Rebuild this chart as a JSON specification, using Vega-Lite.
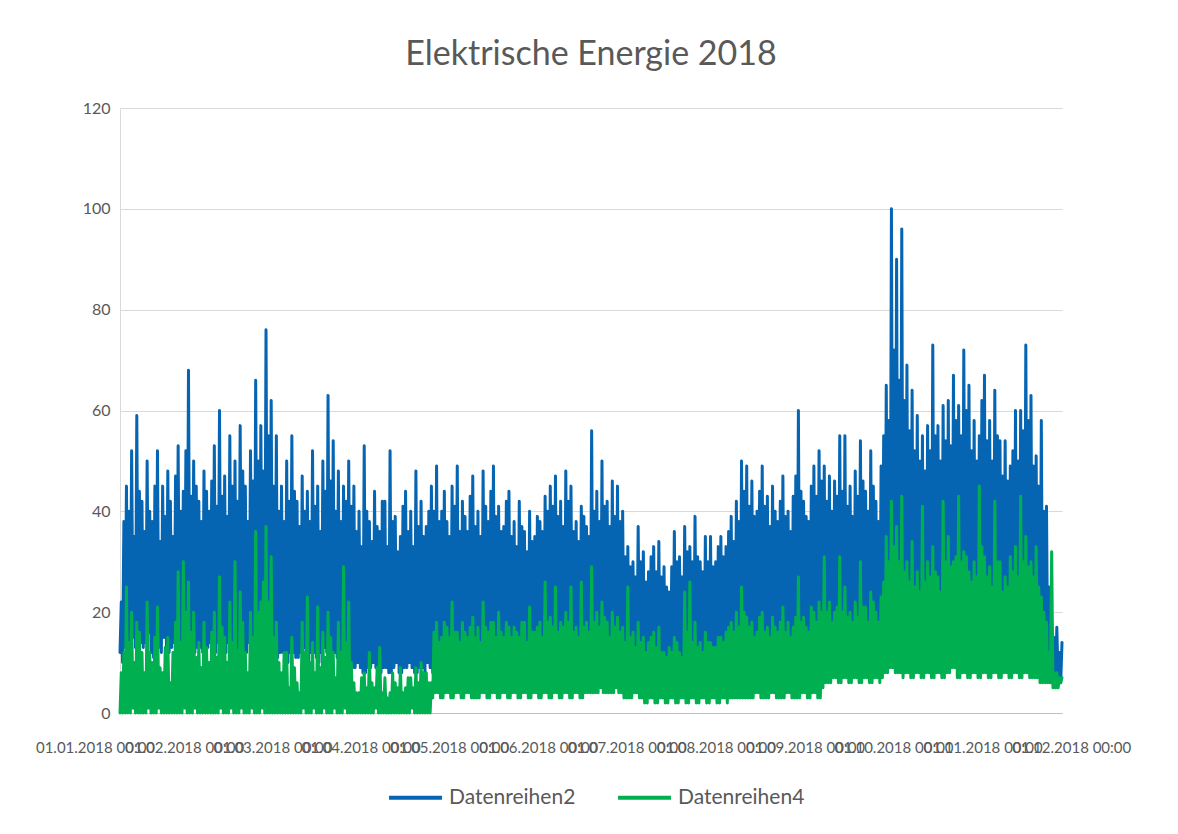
{
"$schema": "https://vega.github.io/schema/vega-lite/v6.json",
"width": 942, "height": 605,
"autosize": {"type": "none"},
"padding": {"left": 120, "top": 108, "right": 116, "bottom": 121},
"background": "white",
"title": {"text": "Elektrische Energie 2018", "font": "Lato", "fontSize": 34, "fontWeight": "normal", "color": "#595959", "offset": 28, "anchor": "middle"},
"data": {"format": {"parse": {"t": "utc:'%y%m%d%H'"}}, "values": [
{"t":"18010100","a":12,"b":0},{"t":"18010112","a":22,"b":8},{"t":"18010200","a":10,"b":0},{"t":"18010212","a":38,"b":12},{"t":"18010300","a":13,"b":0},{"t":"18010312","a":45,"b":25},{"t":"18010400","a":14,"b":0},{"t":"18010412","a":40,"b":14},{"t":"18010500","a":12,"b":0},{"t":"18010512","a":52,"b":20},{"t":"18010600","a":15,"b":1},{"t":"18010612","a":35,"b":10},{"t":"18010700","a":13,"b":0},{"t":"18010712","a":59,"b":18},{"t":"18010800","a":12,"b":0},{"t":"18010812","a":44,"b":16},{"t":"18010900","a":14,"b":0},{"t":"18010912","a":42,"b":12},{"t":"18011000","a":13,"b":0},{"t":"18011012","a":36,"b":8},{"t":"18011100","a":14,"b":0},{"t":"18011112","a":50,"b":22},{"t":"18011200","a":16,"b":1},{"t":"18011212","a":40,"b":12},{"t":"18011300","a":12,"b":0},{"t":"18011312","a":38,"b":10},{"t":"18011400","a":11,"b":0},{"t":"18011412","a":45,"b":15},{"t":"18011500","a":13,"b":0},{"t":"18011512","a":52,"b":21},{"t":"18011600","a":13,"b":1},{"t":"18011612","a":34,"b":9},{"t":"18011700","a":12,"b":0},{"t":"18011712","a":45,"b":8},{"t":"18011800","a":15,"b":0},{"t":"18011812","a":39,"b":13},{"t":"18011900","a":12,"b":0},{"t":"18011912","a":48,"b":15},{"t":"18012000","a":12,"b":0},{"t":"18012012","a":42,"b":6},{"t":"18012100","a":13,"b":0},{"t":"18012112","a":35,"b":12},{"t":"18012200","a":14,"b":0},{"t":"18012212","a":47,"b":18},{"t":"18012300","a":12,"b":0},{"t":"18012312","a":53,"b":28},{"t":"18012400","a":11,"b":0},{"t":"18012412","a":40,"b":14},{"t":"18012500","a":13,"b":0},{"t":"18012512","a":44,"b":30},{"t":"18012600","a":13,"b":1},{"t":"18012612","a":52,"b":20},{"t":"18012700","a":14,"b":0},{"t":"18012712","a":68,"b":26},{"t":"18012800","a":15,"b":0},{"t":"18012812","a":43,"b":16},{"t":"18012900","a":13,"b":0},{"t":"18012912","a":50,"b":20},{"t":"18013000","a":12,"b":1},{"t":"18013012","a":45,"b":11},{"t":"18013100","a":13,"b":0},{"t":"18013112","a":42,"b":14},
{"t":"18020100","a":13,"b":0},{"t":"18020112","a":38,"b":9},{"t":"18020200","a":12,"b":0},{"t":"18020212","a":48,"b":18},{"t":"18020300","a":11,"b":0},{"t":"18020312","a":44,"b":13},{"t":"18020400","a":13,"b":0},{"t":"18020412","a":40,"b":10},{"t":"18020500","a":14,"b":0},{"t":"18020512","a":46,"b":16},{"t":"18020600","a":12,"b":0},{"t":"18020612","a":53,"b":20},{"t":"18020700","a":12,"b":0},{"t":"18020712","a":41,"b":11},{"t":"18020800","a":14,"b":0},{"t":"18020812","a":60,"b":27},{"t":"18020900","a":15,"b":1},{"t":"18020912","a":43,"b":17},{"t":"18021000","a":13,"b":0},{"t":"18021012","a":47,"b":15},{"t":"18021100","a":12,"b":0},{"t":"18021112","a":39,"b":10},{"t":"18021200","a":14,"b":0},{"t":"18021212","a":55,"b":22},{"t":"18021300","a":14,"b":1},{"t":"18021312","a":45,"b":14},{"t":"18021400","a":12,"b":0},{"t":"18021412","a":50,"b":30},{"t":"18021500","a":11,"b":0},{"t":"18021512","a":42,"b":12},{"t":"18021600","a":13,"b":0},{"t":"18021612","a":57,"b":24},{"t":"18021700","a":13,"b":1},{"t":"18021712","a":48,"b":18},{"t":"18021800","a":12,"b":0},{"t":"18021812","a":45,"b":12},{"t":"18021900","a":12,"b":0},{"t":"18021912","a":38,"b":8},{"t":"18022000","a":14,"b":0},{"t":"18022012","a":52,"b":20},{"t":"18022100","a":15,"b":1},{"t":"18022112","a":46,"b":15},{"t":"18022200","a":13,"b":0},{"t":"18022212","a":66,"b":36},{"t":"18022300","a":13,"b":0},{"t":"18022312","a":50,"b":20},{"t":"18022400","a":12,"b":0},{"t":"18022412","a":57,"b":22},{"t":"18022500","a":14,"b":1},{"t":"18022512","a":48,"b":26},{"t":"18022600","a":13,"b":0},{"t":"18022612","a":76,"b":37},{"t":"18022700","a":12,"b":0},{"t":"18022712","a":55,"b":22},{"t":"18022800","a":14,"b":0},{"t":"18022812","a":62,"b":31},
{"t":"18030100","a":13,"b":0},{"t":"18030112","a":45,"b":15},{"t":"18030200","a":12,"b":0},{"t":"18030212","a":55,"b":18},{"t":"18030300","a":11,"b":0},{"t":"18030312","a":40,"b":10},{"t":"18030400","a":12,"b":0},{"t":"18030412","a":45,"b":8},{"t":"18030500","a":12,"b":0},{"t":"18030512","a":38,"b":12},{"t":"18030600","a":11,"b":0},{"t":"18030612","a":50,"b":12},{"t":"18030700","a":10,"b":0},{"t":"18030712","a":42,"b":5},{"t":"18030800","a":12,"b":0},{"t":"18030812","a":55,"b":15},{"t":"18030900","a":12,"b":0},{"t":"18030912","a":44,"b":9},{"t":"18031000","a":11,"b":0},{"t":"18031012","a":42,"b":6},{"t":"18031100","a":11,"b":0},{"t":"18031112","a":37,"b":4},{"t":"18031200","a":12,"b":0},{"t":"18031212","a":47,"b":18},{"t":"18031300","a":13,"b":1},{"t":"18031312","a":40,"b":12},{"t":"18031400","a":11,"b":0},{"t":"18031412","a":44,"b":23},{"t":"18031500","a":10,"b":0},{"t":"18031512","a":38,"b":10},{"t":"18031600","a":12,"b":0},{"t":"18031612","a":52,"b":14},{"t":"18031700","a":12,"b":1},{"t":"18031712","a":41,"b":8},{"t":"18031800","a":11,"b":0},{"t":"18031812","a":45,"b":21},{"t":"18031900","a":10,"b":0},{"t":"18031912","a":36,"b":9},{"t":"18032000","a":12,"b":0},{"t":"18032012","a":50,"b":16},{"t":"18032100","a":13,"b":1},{"t":"18032112","a":44,"b":11},{"t":"18032200","a":12,"b":0},{"t":"18032212","a":63,"b":20},{"t":"18032300","a":11,"b":0},{"t":"18032312","a":46,"b":15},{"t":"18032400","a":11,"b":0},{"t":"18032412","a":54,"b":12},{"t":"18032500","a":12,"b":1},{"t":"18032512","a":40,"b":7},{"t":"18032600","a":11,"b":0},{"t":"18032612","a":48,"b":18},{"t":"18032700","a":10,"b":0},{"t":"18032712","a":38,"b":12},{"t":"18032800","a":11,"b":0},{"t":"18032812","a":45,"b":29},{"t":"18032900","a":12,"b":1},{"t":"18032912","a":42,"b":14},{"t":"18033000","a":11,"b":0},{"t":"18033012","a":50,"b":22},{"t":"18033100","a":10,"b":0},{"t":"18033112","a":41,"b":10},
{"t":"18040100","a":9,"b":0},{"t":"18040112","a":45,"b":6},{"t":"18040200","a":9,"b":0},{"t":"18040212","a":36,"b":4},{"t":"18040300","a":10,"b":0},{"t":"18040312","a":40,"b":4},{"t":"18040400","a":9,"b":0},{"t":"18040412","a":33,"b":7},{"t":"18040500","a":8,"b":0},{"t":"18040512","a":53,"b":8},{"t":"18040600","a":8,"b":0},{"t":"18040612","a":40,"b":5},{"t":"18040700","a":9,"b":0},{"t":"18040712","a":38,"b":12},{"t":"18040800","a":9,"b":0},{"t":"18040812","a":34,"b":6},{"t":"18040900","a":10,"b":0},{"t":"18040912","a":44,"b":5},{"t":"18041000","a":9,"b":1},{"t":"18041012","a":37,"b":9},{"t":"18041100","a":8,"b":0},{"t":"18041112","a":36,"b":13},{"t":"18041200","a":8,"b":0},{"t":"18041212","a":42,"b":4},{"t":"18041300","a":9,"b":0},{"t":"18041312","a":42,"b":7},{"t":"18041400","a":9,"b":0},{"t":"18041412","a":33,"b":3},{"t":"18041500","a":8,"b":0},{"t":"18041512","a":52,"b":4},{"t":"18041600","a":8,"b":0},{"t":"18041612","a":38,"b":8},{"t":"18041700","a":9,"b":0},{"t":"18041712","a":39,"b":6},{"t":"18041800","a":10,"b":0},{"t":"18041812","a":32,"b":5},{"t":"18041900","a":8,"b":0},{"t":"18041912","a":35,"b":9},{"t":"18042000","a":8,"b":0},{"t":"18042012","a":41,"b":4},{"t":"18042100","a":9,"b":0},{"t":"18042112","a":44,"b":5},{"t":"18042200","a":9,"b":0},{"t":"18042212","a":36,"b":7},{"t":"18042300","a":10,"b":0},{"t":"18042312","a":40,"b":7},{"t":"18042400","a":9,"b":1},{"t":"18042412","a":33,"b":5},{"t":"18042500","a":8,"b":0},{"t":"18042512","a":48,"b":9},{"t":"18042600","a":8,"b":0},{"t":"18042612","a":37,"b":6},{"t":"18042700","a":9,"b":0},{"t":"18042712","a":42,"b":10},{"t":"18042800","a":9,"b":0},{"t":"18042812","a":35,"b":8},{"t":"18042900","a":8,"b":0},{"t":"18042912","a":37,"b":8},{"t":"18043000","a":10,"b":0},{"t":"18043012","a":40,"b":6},
{"t":"18050100","a":9,"b":0},{"t":"18050112","a":45,"b":6},{"t":"18050200","a":8,"b":3},{"t":"18050212","a":40,"b":16},{"t":"18050300","a":8,"b":4},{"t":"18050312","a":49,"b":18},{"t":"18050400","a":8,"b":4},{"t":"18050412","a":38,"b":14},{"t":"18050500","a":9,"b":3},{"t":"18050512","a":40,"b":15},{"t":"18050600","a":9,"b":3},{"t":"18050612","a":44,"b":18},{"t":"18050700","a":8,"b":4},{"t":"18050712","a":38,"b":17},{"t":"18050800","a":8,"b":4},{"t":"18050812","a":35,"b":15},{"t":"18050900","a":9,"b":3},{"t":"18050912","a":45,"b":22},{"t":"18051000","a":9,"b":3},{"t":"18051012","a":41,"b":16},{"t":"18051100","a":8,"b":4},{"t":"18051112","a":49,"b":16},{"t":"18051200","a":8,"b":4},{"t":"18051212","a":36,"b":14},{"t":"18051300","a":7,"b":3},{"t":"18051312","a":42,"b":18},{"t":"18051400","a":7,"b":3},{"t":"18051412","a":39,"b":16},{"t":"18051500","a":8,"b":4},{"t":"18051512","a":36,"b":15},{"t":"18051600","a":8,"b":4},{"t":"18051612","a":43,"b":17},{"t":"18051700","a":9,"b":3},{"t":"18051712","a":47,"b":19},{"t":"18051800","a":9,"b":3},{"t":"18051812","a":37,"b":15},{"t":"18051900","a":8,"b":3},{"t":"18051912","a":40,"b":17},{"t":"18052000","a":8,"b":3},{"t":"18052012","a":35,"b":14},{"t":"18052100","a":8,"b":4},{"t":"18052112","a":48,"b":22},{"t":"18052200","a":8,"b":4},{"t":"18052212","a":41,"b":17},{"t":"18052300","a":7,"b":3},{"t":"18052312","a":38,"b":16},{"t":"18052400","a":7,"b":3},{"t":"18052412","a":44,"b":18},{"t":"18052500","a":8,"b":4},{"t":"18052512","a":49,"b":18},{"t":"18052600","a":8,"b":4},{"t":"18052612","a":39,"b":15},{"t":"18052700","a":9,"b":3},{"t":"18052712","a":41,"b":20},{"t":"18052800","a":9,"b":3},{"t":"18052812","a":36,"b":16},{"t":"18052900","a":8,"b":4},{"t":"18052912","a":37,"b":15},{"t":"18053000","a":8,"b":4},{"t":"18053012","a":42,"b":18},{"t":"18053100","a":8,"b":3},{"t":"18053112","a":44,"b":17},
{"t":"18060100","a":8,"b":3},{"t":"18060112","a":35,"b":15},{"t":"18060200","a":7,"b":4},{"t":"18060212","a":38,"b":17},{"t":"18060300","a":7,"b":4},{"t":"18060312","a":33,"b":16},{"t":"18060400","a":8,"b":3},{"t":"18060412","a":42,"b":15},{"t":"18060500","a":8,"b":3},{"t":"18060512","a":37,"b":18},{"t":"18060600","a":9,"b":4},{"t":"18060612","a":36,"b":18},{"t":"18060700","a":9,"b":4},{"t":"18060712","a":32,"b":14},{"t":"18060800","a":8,"b":3},{"t":"18060812","a":40,"b":21},{"t":"18060900","a":8,"b":3},{"t":"18060912","a":34,"b":16},{"t":"18061000","a":7,"b":4},{"t":"18061012","a":35,"b":16},{"t":"18061100","a":7,"b":4},{"t":"18061112","a":39,"b":17},{"t":"18061200","a":8,"b":3},{"t":"18061212","a":38,"b":18},{"t":"18061300","a":8,"b":3},{"t":"18061312","a":36,"b":15},{"t":"18061400","a":8,"b":4},{"t":"18061412","a":43,"b":26},{"t":"18061500","a":8,"b":4},{"t":"18061512","a":40,"b":18},{"t":"18061600","a":9,"b":3},{"t":"18061612","a":45,"b":19},{"t":"18061700","a":9,"b":3},{"t":"18061712","a":41,"b":17},{"t":"18061800","a":8,"b":4},{"t":"18061812","a":47,"b":25},{"t":"18061900","a":8,"b":4},{"t":"18061912","a":39,"b":16},{"t":"18062000","a":7,"b":3},{"t":"18062012","a":42,"b":18},{"t":"18062100","a":7,"b":3},{"t":"18062112","a":37,"b":17},{"t":"18062200","a":8,"b":4},{"t":"18062212","a":48,"b":20},{"t":"18062300","a":8,"b":4},{"t":"18062312","a":42,"b":18},{"t":"18062400","a":9,"b":3},{"t":"18062412","a":45,"b":25},{"t":"18062500","a":9,"b":3},{"t":"18062512","a":36,"b":16},{"t":"18062600","a":8,"b":4},{"t":"18062612","a":38,"b":17},{"t":"18062700","a":8,"b":4},{"t":"18062712","a":34,"b":15},{"t":"18062800","a":8,"b":3},{"t":"18062812","a":41,"b":26},{"t":"18062900","a":8,"b":3},{"t":"18062912","a":39,"b":17},{"t":"18063000","a":8,"b":4},{"t":"18063012","a":37,"b":18},
{"t":"18070100","a":8,"b":4},{"t":"18070112","a":35,"b":16},{"t":"18070200","a":9,"b":4},{"t":"18070212","a":56,"b":29},{"t":"18070300","a":9,"b":4},{"t":"18070312","a":40,"b":18},{"t":"18070400","a":8,"b":4},{"t":"18070412","a":44,"b":20},{"t":"18070500","a":8,"b":4},{"t":"18070512","a":38,"b":17},{"t":"18070600","a":9,"b":5},{"t":"18070612","a":50,"b":22},{"t":"18070700","a":9,"b":4},{"t":"18070712","a":41,"b":19},{"t":"18070800","a":8,"b":4},{"t":"18070812","a":42,"b":18},{"t":"18070900","a":8,"b":4},{"t":"18070912","a":37,"b":15},{"t":"18071000","a":9,"b":4},{"t":"18071012","a":46,"b":20},{"t":"18071100","a":9,"b":4},{"t":"18071112","a":39,"b":17},{"t":"18071200","a":8,"b":5},{"t":"18071212","a":45,"b":19},{"t":"18071300","a":8,"b":4},{"t":"18071312","a":38,"b":16},{"t":"18071400","a":9,"b":4},{"t":"18071412","a":40,"b":17},{"t":"18071500","a":8,"b":3},{"t":"18071512","a":31,"b":14},{"t":"18071600","a":8,"b":3},{"t":"18071612","a":33,"b":25},{"t":"18071700","a":7,"b":3},{"t":"18071712","a":29,"b":15},{"t":"18071800","a":7,"b":3},{"t":"18071812","a":30,"b":16},{"t":"18071900","a":8,"b":4},{"t":"18071912","a":27,"b":13},{"t":"18072000","a":8,"b":4},{"t":"18072012","a":37,"b":18},{"t":"18072100","a":7,"b":3},{"t":"18072112","a":30,"b":14},{"t":"18072200","a":7,"b":3},{"t":"18072212","a":32,"b":15},{"t":"18072300","a":6,"b":2},{"t":"18072312","a":26,"b":12},{"t":"18072400","a":6,"b":2},{"t":"18072412","a":28,"b":14},{"t":"18072500","a":7,"b":3},{"t":"18072512","a":31,"b":15},{"t":"18072600","a":7,"b":3},{"t":"18072612","a":33,"b":16},{"t":"18072700","a":6,"b":2},{"t":"18072712","a":28,"b":13},{"t":"18072800","a":6,"b":2},{"t":"18072812","a":34,"b":17},{"t":"18072900","a":7,"b":3},{"t":"18072912","a":27,"b":12},{"t":"18073000","a":7,"b":3},{"t":"18073012","a":29,"b":12},{"t":"18073100","a":6,"b":2},{"t":"18073112","a":25,"b":11},
{"t":"18080100","a":6,"b":2},{"t":"18080112","a":24,"b":13},{"t":"18080200","a":7,"b":3},{"t":"18080212","a":29,"b":12},{"t":"18080300","a":7,"b":3},{"t":"18080312","a":36,"b":15},{"t":"18080400","a":6,"b":2},{"t":"18080412","a":30,"b":14},{"t":"18080500","a":6,"b":2},{"t":"18080512","a":31,"b":12},{"t":"18080600","a":7,"b":3},{"t":"18080612","a":27,"b":11},{"t":"18080700","a":7,"b":3},{"t":"18080712","a":37,"b":24},{"t":"18080800","a":6,"b":2},{"t":"18080812","a":32,"b":16},{"t":"18080900","a":6,"b":2},{"t":"18080912","a":33,"b":26},{"t":"18081000","a":7,"b":3},{"t":"18081012","a":30,"b":14},{"t":"18081100","a":7,"b":3},{"t":"18081112","a":39,"b":18},{"t":"18081200","a":6,"b":2},{"t":"18081212","a":31,"b":13},{"t":"18081300","a":6,"b":2},{"t":"18081312","a":30,"b":14},{"t":"18081400","a":7,"b":3},{"t":"18081412","a":28,"b":12},{"t":"18081500","a":7,"b":3},{"t":"18081512","a":35,"b":16},{"t":"18081600","a":6,"b":2},{"t":"18081612","a":30,"b":14},{"t":"18081700","a":6,"b":2},{"t":"18081712","a":35,"b":14},{"t":"18081800","a":7,"b":3},{"t":"18081812","a":29,"b":13},{"t":"18081900","a":7,"b":3},{"t":"18081912","a":30,"b":13},{"t":"18082000","a":6,"b":2},{"t":"18082012","a":33,"b":15},{"t":"18082100","a":6,"b":2},{"t":"18082112","a":35,"b":15},{"t":"18082200","a":7,"b":3},{"t":"18082212","a":31,"b":14},{"t":"18082300","a":7,"b":3},{"t":"18082312","a":33,"b":16},{"t":"18082400","a":6,"b":2},{"t":"18082412","a":36,"b":17},{"t":"18082500","a":7,"b":3},{"t":"18082512","a":39,"b":18},{"t":"18082600","a":7,"b":3},{"t":"18082612","a":34,"b":16},{"t":"18082700","a":7,"b":3},{"t":"18082712","a":42,"b":20},{"t":"18082800","a":8,"b":3},{"t":"18082812","a":38,"b":17},{"t":"18082900","a":8,"b":3},{"t":"18082912","a":50,"b":25},{"t":"18083000","a":8,"b":3},{"t":"18083012","a":44,"b":20},{"t":"18083100","a":7,"b":3},{"t":"18083112","a":49,"b":19},
{"t":"18090100","a":7,"b":3},{"t":"18090112","a":41,"b":17},{"t":"18090200","a":8,"b":3},{"t":"18090212","a":46,"b":18},{"t":"18090300","a":8,"b":3},{"t":"18090312","a":39,"b":15},{"t":"18090400","a":7,"b":4},{"t":"18090412","a":40,"b":16},{"t":"18090500","a":7,"b":4},{"t":"18090512","a":44,"b":19},{"t":"18090600","a":8,"b":3},{"t":"18090612","a":49,"b":20},{"t":"18090700","a":8,"b":3},{"t":"18090712","a":41,"b":16},{"t":"18090800","a":7,"b":3},{"t":"18090812","a":43,"b":17},{"t":"18090900","a":7,"b":3},{"t":"18090912","a":37,"b":15},{"t":"18091000","a":8,"b":4},{"t":"18091012","a":45,"b":19},{"t":"18091100","a":8,"b":4},{"t":"18091112","a":40,"b":17},{"t":"18091200","a":7,"b":3},{"t":"18091212","a":38,"b":16},{"t":"18091300","a":7,"b":3},{"t":"18091312","a":42,"b":18},{"t":"18091400","a":8,"b":3},{"t":"18091412","a":47,"b":21},{"t":"18091500","a":8,"b":3},{"t":"18091512","a":39,"b":16},{"t":"18091600","a":7,"b":4},{"t":"18091612","a":40,"b":18},{"t":"18091700","a":7,"b":4},{"t":"18091712","a":36,"b":15},{"t":"18091800","a":8,"b":3},{"t":"18091812","a":43,"b":17},{"t":"18091900","a":8,"b":3},{"t":"18091912","a":47,"b":19},{"t":"18092000","a":9,"b":3},{"t":"18092012","a":60,"b":27},{"t":"18092100","a":9,"b":3},{"t":"18092112","a":44,"b":18},{"t":"18092200","a":8,"b":4},{"t":"18092212","a":42,"b":19},{"t":"18092300","a":8,"b":4},{"t":"18092312","a":39,"b":17},{"t":"18092400","a":7,"b":3},{"t":"18092412","a":38,"b":16},{"t":"18092500","a":7,"b":3},{"t":"18092512","a":45,"b":21},{"t":"18092600","a":8,"b":4},{"t":"18092612","a":49,"b":20},{"t":"18092700","a":8,"b":4},{"t":"18092712","a":43,"b":18},{"t":"18092800","a":9,"b":3},{"t":"18092812","a":52,"b":22},{"t":"18092900","a":9,"b":3},{"t":"18092912","a":46,"b":20},{"t":"18093000","a":9,"b":5},{"t":"18093012","a":49,"b":31},
{"t":"18100100","a":10,"b":6},{"t":"18100112","a":42,"b":20},{"t":"18100200","a":11,"b":6},{"t":"18100212","a":47,"b":22},{"t":"18100300","a":11,"b":6},{"t":"18100312","a":40,"b":18},{"t":"18100400","a":10,"b":7},{"t":"18100412","a":46,"b":20},{"t":"18100500","a":10,"b":7},{"t":"18100512","a":43,"b":21},{"t":"18100600","a":11,"b":6},{"t":"18100612","a":55,"b":31},{"t":"18100700","a":11,"b":6},{"t":"18100712","a":44,"b":20},{"t":"18100800","a":10,"b":7},{"t":"18100812","a":55,"b":25},{"t":"18100900","a":10,"b":7},{"t":"18100912","a":41,"b":19},{"t":"18101000","a":11,"b":6},{"t":"18101012","a":45,"b":20},{"t":"18101100","a":11,"b":6},{"t":"18101112","a":39,"b":18},{"t":"18101200","a":10,"b":7},{"t":"18101212","a":48,"b":22},{"t":"18101300","a":10,"b":7},{"t":"18101312","a":43,"b":19},{"t":"18101400","a":11,"b":6},{"t":"18101412","a":54,"b":30},{"t":"18101500","a":11,"b":6},{"t":"18101512","a":46,"b":21},{"t":"18101600","a":10,"b":7},{"t":"18101612","a":44,"b":21},{"t":"18101700","a":10,"b":7},{"t":"18101712","a":40,"b":18},{"t":"18101800","a":11,"b":6},{"t":"18101812","a":52,"b":24},{"t":"18101900","a":11,"b":6},{"t":"18101912","a":45,"b":22},{"t":"18102000","a":10,"b":7},{"t":"18102012","a":42,"b":20},{"t":"18102100","a":10,"b":7},{"t":"18102112","a":38,"b":18},{"t":"18102200","a":11,"b":6},{"t":"18102212","a":49,"b":23},{"t":"18102300","a":12,"b":7},{"t":"18102312","a":55,"b":26},{"t":"18102400","a":13,"b":8},{"t":"18102412","a":65,"b":35},{"t":"18102500","a":14,"b":8},{"t":"18102512","a":58,"b":30},{"t":"18102600","a":16,"b":9},{"t":"18102612","a":100,"b":42},{"t":"18102700","a":17,"b":9},{"t":"18102712","a":72,"b":33},{"t":"18102800","a":16,"b":8},{"t":"18102812","a":90,"b":37},{"t":"18102900","a":15,"b":8},{"t":"18102912","a":66,"b":30},{"t":"18103000","a":14,"b":8},{"t":"18103012","a":96,"b":43},{"t":"18103100","a":13,"b":7},{"t":"18103112","a":62,"b":28},
{"t":"18110100","a":13,"b":8},{"t":"18110112","a":69,"b":30},{"t":"18110200","a":13,"b":8},{"t":"18110212","a":56,"b":26},{"t":"18110300","a":12,"b":7},{"t":"18110312","a":64,"b":34},{"t":"18110400","a":12,"b":7},{"t":"18110412","a":52,"b":25},{"t":"18110500","a":13,"b":8},{"t":"18110512","a":59,"b":28},{"t":"18110600","a":13,"b":8},{"t":"18110612","a":50,"b":24},{"t":"18110700","a":12,"b":7},{"t":"18110712","a":55,"b":41},{"t":"18110800","a":12,"b":7},{"t":"18110812","a":48,"b":26},{"t":"18110900","a":14,"b":8},{"t":"18110912","a":57,"b":30},{"t":"18111000","a":14,"b":8},{"t":"18111012","a":52,"b":27},{"t":"18111100","a":13,"b":7},{"t":"18111112","a":73,"b":33},{"t":"18111200","a":13,"b":7},{"t":"18111212","a":55,"b":28},{"t":"18111300","a":12,"b":8},{"t":"18111312","a":57,"b":27},{"t":"18111400","a":12,"b":8},{"t":"18111412","a":50,"b":24},{"t":"18111500","a":13,"b":7},{"t":"18111512","a":61,"b":42},{"t":"18111600","a":13,"b":7},{"t":"18111612","a":54,"b":30},{"t":"18111700","a":12,"b":8},{"t":"18111712","a":62,"b":35},{"t":"18111800","a":12,"b":8},{"t":"18111812","a":53,"b":29},{"t":"18111900","a":14,"b":9},{"t":"18111912","a":67,"b":30},{"t":"18112000","a":14,"b":9},{"t":"18112012","a":58,"b":31},{"t":"18112100","a":13,"b":7},{"t":"18112112","a":61,"b":43},{"t":"18112200","a":13,"b":7},{"t":"18112212","a":55,"b":30},{"t":"18112300","a":12,"b":8},{"t":"18112312","a":72,"b":32},{"t":"18112400","a":12,"b":8},{"t":"18112412","a":60,"b":31},{"t":"18112500","a":13,"b":7},{"t":"18112512","a":65,"b":28},{"t":"18112600","a":13,"b":7},{"t":"18112612","a":52,"b":26},{"t":"18112700","a":12,"b":8},{"t":"18112712","a":58,"b":30},{"t":"18112800","a":12,"b":8},{"t":"18112812","a":50,"b":27},{"t":"18112900","a":13,"b":7},{"t":"18112912","a":55,"b":45},{"t":"18113000","a":13,"b":7},{"t":"18113012","a":62,"b":33},
{"t":"18120100","a":12,"b":8},{"t":"18120112","a":67,"b":31},{"t":"18120200","a":12,"b":8},{"t":"18120212","a":54,"b":27},{"t":"18120300","a":13,"b":7},{"t":"18120312","a":58,"b":29},{"t":"18120400","a":13,"b":7},{"t":"18120412","a":50,"b":25},{"t":"18120500","a":12,"b":8},{"t":"18120512","a":64,"b":42},{"t":"18120600","a":12,"b":8},{"t":"18120612","a":55,"b":30},{"t":"18120700","a":13,"b":7},{"t":"18120712","a":54,"b":30},{"t":"18120800","a":13,"b":7},{"t":"18120812","a":47,"b":24},{"t":"18120900","a":12,"b":8},{"t":"18120912","a":54,"b":27},{"t":"18121000","a":12,"b":8},{"t":"18121012","a":46,"b":25},{"t":"18121100","a":13,"b":7},{"t":"18121112","a":49,"b":31},{"t":"18121200","a":13,"b":7},{"t":"18121212","a":52,"b":28},{"t":"18121300","a":12,"b":8},{"t":"18121312","a":60,"b":33},{"t":"18121400","a":12,"b":8},{"t":"18121412","a":50,"b":27},{"t":"18121500","a":13,"b":7},{"t":"18121512","a":60,"b":43},{"t":"18121600","a":13,"b":7},{"t":"18121612","a":56,"b":30},{"t":"18121700","a":12,"b":8},{"t":"18121712","a":73,"b":35},{"t":"18121800","a":12,"b":8},{"t":"18121812","a":58,"b":29},{"t":"18121900","a":11,"b":7},{"t":"18121912","a":63,"b":30},{"t":"18122000","a":11,"b":7},{"t":"18122012","a":49,"b":27},{"t":"18122100","a":10,"b":7},{"t":"18122112","a":51,"b":33},{"t":"18122200","a":10,"b":7},{"t":"18122212","a":45,"b":25},{"t":"18122300","a":9,"b":6},{"t":"18122312","a":58,"b":23},{"t":"18122400","a":8,"b":6},{"t":"18122412","a":40,"b":20},{"t":"18122500","a":7,"b":6},{"t":"18122512","a":41,"b":18},{"t":"18122600","a":7,"b":6},{"t":"18122612","a":25,"b":12},{"t":"18122700","a":6,"b":6},{"t":"18122712","a":18,"b":32},{"t":"18122800","a":6,"b":5},{"t":"18122812","a":15,"b":8},{"t":"18122900","a":6,"b":5},{"t":"18122912","a":17,"b":8},{"t":"18123000","a":6,"b":5},{"t":"18123012","a":12,"b":7},{"t":"18123100","a":6,"b":6},{"t":"18123112","a":14,"b":7}
]},
"transform": [{"fold": ["a", "b"], "as": ["serie", "wert"]}],
"mark": {"type": "line", "strokeWidth": 3, "strokeJoin": "round", "strokeCap": "round"},
"encoding": {
  "x": {"field": "t", "type": "temporal",
    "scale": {"type": "utc", "domain": [{"year": 2018, "month": 1, "date": 1, "utc": true}, {"year": 2018, "month": 12, "date": 31, "hours": 12, "utc": true}]},
    "axis": {"title": null, "format": "%d.%m.%Y %H:%M",
      "values": [{"year":2018,"month":1,"date":1,"utc":true},{"year":2018,"month":2,"date":1,"utc":true},{"year":2018,"month":3,"date":1,"utc":true},{"year":2018,"month":4,"date":1,"utc":true},{"year":2018,"month":5,"date":1,"utc":true},{"year":2018,"month":6,"date":1,"utc":true},{"year":2018,"month":7,"date":1,"utc":true},{"year":2018,"month":8,"date":1,"utc":true},{"year":2018,"month":9,"date":1,"utc":true},{"year":2018,"month":10,"date":1,"utc":true},{"year":2018,"month":11,"date":1,"utc":true},{"year":2018,"month":12,"date":1,"utc":true}],
      "labelOverlap": false, "labelBound": false, "labelFlush": false,
      "labelFont": "Lato", "labelFontSize": 15, "labelColor": "#595959", "labelPadding": 27,
      "labelOffset": {"condition": [
        {"test": "utcmonth(datum.value) == 0", "value": -25},
        {"test": "utcmonth(datum.value) == 1", "value": -16},
        {"test": "utcmonth(datum.value) == 2", "value": 0},
        {"test": "utcmonth(datum.value) == 3", "value": 8},
        {"test": "utcmonth(datum.value) == 4", "value": 19},
        {"test": "utcmonth(datum.value) == 5", "value": 28},
        {"test": "utcmonth(datum.value) == 6", "value": 39},
        {"test": "utcmonth(datum.value) == 7", "value": 48},
        {"test": "utcmonth(datum.value) == 8", "value": 57},
        {"test": "utcmonth(datum.value) == 9", "value": 68},
        {"test": "utcmonth(datum.value) == 10", "value": 77}
      ], "value": 88},
      "ticks": false, "tickSize": 0, "grid": false, "domainColor": "#BFBFBF", "domainWidth": 1}},
  "y": {"field": "wert", "type": "quantitative", "scale": {"domain": [0, 120], "nice": false},
    "axis": {"title": null, "values": [0, 20, 40, 60, 80, 100, 120], "labelFont": "Lato", "labelFontSize": 16, "labelColor": "#595959", "labelPadding": 10, "ticks": false, "tickSize": 0, "domain": true, "domainColor": "#D9D9D9", "grid": true, "gridColor": "#D9D9D9", "gridWidth": 1}},
  "color": {"field": "serie", "type": "nominal",
    "scale": {"domain": ["a", "b"], "range": ["#0565B2", "#00B050"]},
    "legend": {"title": null, "orient": "none", "legendX": 267, "legendY": 661, "direction": "horizontal", "symbolType": "stroke", "symbolSize": 2800, "symbolStrokeWidth": 4, "labelFont": "Lato", "labelFontSize": 21, "labelColor": "#595959", "labelOffset": 5, "columnPadding": 34,
      "labelExpr": "datum.label == 'a' ? 'Datenreihen2' : 'Datenreihen4'"}}
},
"config": {"view": {"stroke": null}, "font": "Lato"}
}
